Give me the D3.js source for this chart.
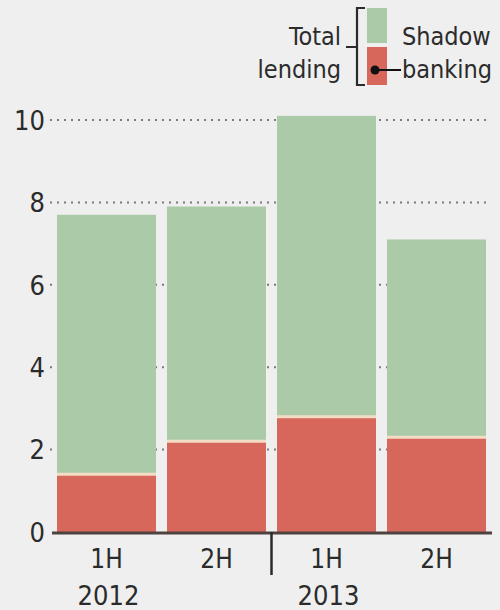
<!DOCTYPE html>
<html>
<head>
<meta charset="utf-8">
<script src="https://cdn.jsdelivr.net/npm/d3@7"></script>
<style>
  html, body { margin: 0; padding: 0; background: #efefef; }
  svg { display: block; }
  text { font-family: "DejaVu Sans Condensed", "DejaVu Sans", sans-serif; font-stretch: condensed; fill: #2b2b2b; }
</style>
</head>
<body>
<script>
// Half-year periods and lending figures (total lending, of which shadow banking)
const periods = ["1H 2012", "2H 2012", "1H 2013", "2H 2013"];
const halfLabels = ["1H", "2H", "1H", "2H"];
const yearLabels = ["2012", "2013"];
const totalLending = [7.7, 7.9, 10.1, 7.1];
const shadowBanking = [1.4, 2.2, 2.8, 2.3];
const yTicks = [0, 2, 4, 6, 8, 10];

const W = 500, H = 610;
const svg = d3.select("body").append("svg").attr("width", W).attr("height", H);

const x = d3.scaleBand().domain(periods).range([51.5, 491.5]).paddingInner(0.1).paddingOuter(0.05);
const y = d3.scaleLinear().domain([0, 10]).range([532, 120]);

const GREEN = "#aacaa8", RED = "#d6675a";

// Dotted gridlines behind the bars
svg.append("g").selectAll("line").data(yTicks.filter(d => d > 0)).join("line")
  .attr("x1", 50).attr("x2", 491)
  .attr("y1", d => y(d)).attr("y2", d => y(d))
  .attr("stroke", "#7a7a7a").attr("stroke-width", 2)
  .attr("stroke-dasharray", "2,5");

// Y tick labels
svg.append("g").selectAll("text").data(yTicks).join("text")
  .attr("x", 45).attr("y", d => y(d)).attr("dy", "0.36em")
  .attr("text-anchor", "end").attr("font-size", 27)
  .text(d => d);

// Stacked bars: shadow banking at the bottom, rest of total lending on top
const bars = svg.append("g").selectAll("g").data(periods).join("g");
bars.append("rect")
  .attr("x", d => x(d)).attr("width", x.bandwidth())
  .attr("y", (d, i) => y(totalLending[i]))
  .attr("height", (d, i) => y(shadowBanking[i]) - y(totalLending[i]))
  .attr("fill", GREEN);
bars.append("rect")
  .attr("x", d => x(d)).attr("width", x.bandwidth())
  .attr("y", (d, i) => y(shadowBanking[i]))
  .attr("height", (d, i) => y(0) - y(shadowBanking[i]))
  .attr("fill", RED);
bars.append("line")
  .attr("x1", d => x(d)).attr("x2", d => x(d) + x.bandwidth())
  .attr("y1", (d, i) => y(shadowBanking[i])).attr("y2", (d, i) => y(shadowBanking[i]))
  .attr("stroke", "#f3ddc6").attr("stroke-width", 3);

// Baseline
svg.append("line").attr("x1", 52).attr("x2", 492).attr("y1", y(0) + 1).attr("y2", y(0) + 1)
  .attr("stroke", "#4e4240").attr("stroke-width", 3);

// Year divider tick
const divX = (x(periods[1]) + x.bandwidth() + x(periods[2])) / 2;
svg.append("line").attr("x1", divX).attr("x2", divX).attr("y1", y(0)).attr("y2", 575)
  .attr("stroke", "#2b2b2b").attr("stroke-width", 2.5);

// Half-year labels
svg.append("g").selectAll("text").data(periods).join("text")
  .attr("x", d => x(d) + x.bandwidth() / 2).attr("y", 568)
  .attr("text-anchor", "middle").attr("font-size", 26)
  .text((d, i) => halfLabels[i]);

// Year labels under the first half of each year
svg.append("g").selectAll("text").data(yearLabels).join("text")
  .attr("x", (d, i) => x(periods[i * 2]) + x.bandwidth() / 2 + 2).attr("y", 605)
  .attr("text-anchor", "middle").attr("font-size", 27)
  .text(d => d);

// Legend
const lg = svg.append("g");
lg.append("rect").attr("x", 367).attr("y", 8).attr("width", 20).attr("height", 35).attr("fill", GREEN);
lg.append("rect").attr("x", 367).attr("y", 47).attr("width", 20).attr("height", 38).attr("fill", RED);
lg.append("path").attr("d", "M365,8 H357 V85 H365 M357,47 H346")
  .attr("fill", "none").attr("stroke", "#2b2b2b").attr("stroke-width", 2.2);
lg.append("circle").attr("cx", 375).attr("cy", 70).attr("r", 4.5).attr("fill", "#111");
lg.append("line").attr("x1", 375).attr("x2", 401).attr("y1", 70).attr("y2", 70)
  .attr("stroke", "#111").attr("stroke-width", 2);
lg.append("text").attr("x", 341).attr("y", 45).attr("text-anchor", "end").attr("font-size", 25).text("Total");
lg.append("text").attr("x", 341).attr("y", 78).attr("text-anchor", "end").attr("font-size", 25).text("lending");
lg.append("text").attr("x", 402).attr("y", 45).attr("font-size", 25).text("Shadow");
lg.append("text").attr("x", 402).attr("y", 78).attr("font-size", 25).text("banking");
</script>
</body>
</html>
